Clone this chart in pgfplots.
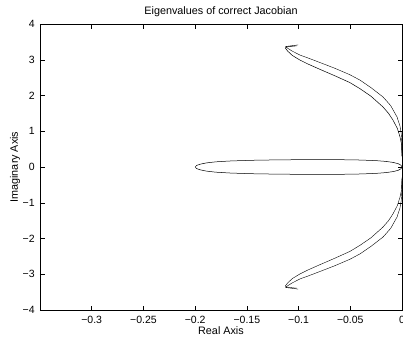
\documentclass[border=0pt]{standalone}
\usepackage{fontspec}
\setmainfont{Liberation Sans}
\usepackage{pgfplots}
\pgfplotsset{compat=1.18}
\begin{document}
\fontsize{10.8}{13}\selectfont
\begin{tikzpicture}
\begin{axis}[
  scale only axis, width=362pt, height=286pt,
  xmin=-0.35, xmax=0, ymin=-4, ymax=4,
  xtick={-0.3,-0.25,-0.2,-0.15,-0.1,-0.05,0},
  xticklabels={−0.3,−0.25,−0.2,−0.15,−0.1,−0.05,0},
  ytick={-4,-3,-2,-1,0,1,2,3,4},
  yticklabels={−4,−3,−2,−1,0,1,2,3,4},
  tick align=inside, major tick length=4.5pt,
  every tick/.style={black, line width=0.5pt},
  axis line style={line width=0.6pt},
  tick label style={font=\fontsize{10.5}{12}\selectfont},
  xticklabel style={yshift=-2pt},
  yticklabel style={xshift=-1.5pt},
  xlabel={Real Axis}, ylabel={Imaginary Axis},
  title={Eigenvalues of correct Jacobian},
  every axis title shift=0pt,
  xlabel style={at={(axis description cs:0.5,-0.0734)}, anchor=center},
  ylabel style={at={(axis description cs:-0.069,0.5)}, anchor=center},
  title style={at={(axis description cs:0.5,1.042)}, anchor=center, yshift=0pt},
  cycle list={{black, line width=0.5pt, mark=none}},
]
\coordinate (bl) at (rel axis cs:0,0);
\coordinate (tr) at (rel axis cs:1,1);
% upper outer branch
\addplot coordinates {(0,0.3) (-0.0002,0.7) (-0.0008,0.95) (-0.002,1.15) (-0.0048,1.40) (-0.011,1.72) (-0.0184,1.96) (-0.03,2.22) (-0.0406,2.43) (-0.0503,2.58) (-0.0648,2.76) (-0.08,2.93) (-0.0909,3.05) (-0.0986,3.13) (-0.106,3.24) (-0.1105,3.32) (-0.1125,3.37) (-0.1005,3.415)};
% upper inner branch
\addplot coordinates {(0,0.3) (-0.0005,0.65) (-0.002,0.85) (-0.0045,1.08) (-0.0087,1.31) (-0.013,1.50) (-0.0184,1.68) (-0.03,1.98) (-0.0406,2.19) (-0.0503,2.36) (-0.0648,2.55) (-0.08,2.74) (-0.0909,2.88) (-0.0986,2.99) (-0.106,3.12) (-0.1105,3.24) (-0.1128,3.33) (-0.1115,3.36) (-0.102,3.39)};
% lower outer branch
\addplot coordinates {(0,-0.3) (-0.0002,-0.7) (-0.0008,-0.95) (-0.002,-1.15) (-0.0048,-1.40) (-0.011,-1.72) (-0.0184,-1.96) (-0.03,-2.22) (-0.0406,-2.43) (-0.0503,-2.58) (-0.0648,-2.76) (-0.08,-2.93) (-0.0909,-3.05) (-0.0986,-3.13) (-0.106,-3.24) (-0.1105,-3.32) (-0.1125,-3.37) (-0.1005,-3.415)};
% lower inner branch
\addplot coordinates {(0,-0.3) (-0.0005,-0.65) (-0.002,-0.85) (-0.0045,-1.08) (-0.0087,-1.31) (-0.013,-1.50) (-0.0184,-1.68) (-0.03,-1.98) (-0.0406,-2.19) (-0.0503,-2.36) (-0.0648,-2.55) (-0.08,-2.74) (-0.0909,-2.88) (-0.0986,-2.99) (-0.106,-3.12) (-0.1105,-3.24) (-0.1128,-3.33) (-0.1115,-3.36) (-0.102,-3.39)};
% real-axis loop
\addplot coordinates {(-0.2,0) (-0.1985,0.045) (-0.195,0.08) (-0.189,0.115) (-0.18,0.145) (-0.165,0.17) (-0.145,0.188) (-0.12,0.2) (-0.09,0.207) (-0.06,0.205) (-0.04,0.195) (-0.025,0.178) (-0.015,0.155) (-0.008,0.125) (-0.0035,0.09) (-0.001,0.05) (0,0)
(-0.001,-0.05) (-0.0035,-0.09) (-0.008,-0.125) (-0.015,-0.155) (-0.025,-0.178) (-0.04,-0.195) (-0.06,-0.205) (-0.09,-0.207) (-0.12,-0.2) (-0.145,-0.188) (-0.165,-0.17) (-0.18,-0.145) (-0.189,-0.115) (-0.195,-0.08) (-0.1985,-0.045) (-0.2,0)};
\end{axis}
\pgfresetboundingbox
\path[use as bounding box] ([xshift=-40pt,yshift=-28pt]bl) rectangle ([xshift=1pt,yshift=24pt]tr);
\end{tikzpicture}
\end{document}
